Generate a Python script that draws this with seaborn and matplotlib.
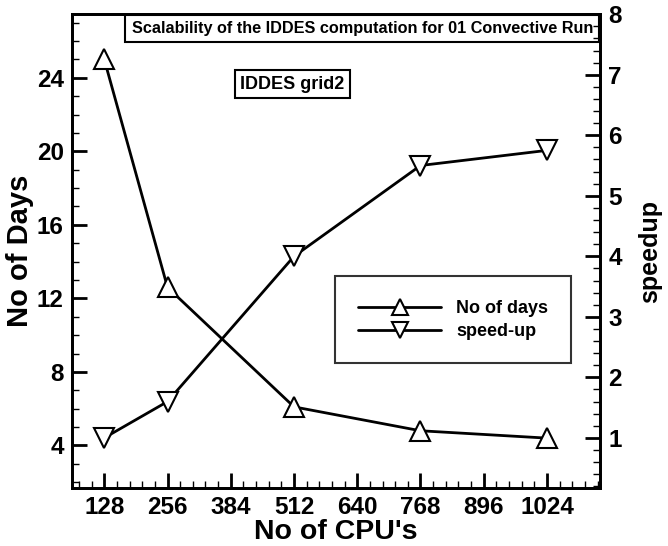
import pandas as pd
import matplotlib.pyplot as plt
import seaborn as sns
from matplotlib.ticker import MultipleLocator

# Dados
cpus = [128, 256, 512, 768, 1024]
dias = [25, 12.6, 6.1, 4.8, 4.4]
speedup = [1, 1.6, 4.0, 5.5, 5.75]

df = pd.DataFrame({"cpus": cpus, "dias": dias, "speedup": speedup})

sns.set_style("ticks")
plt.rcParams['font.family'] = ['Liberation Sans', 'DejaVu Sans']
plt.rcParams['font.weight'] = 'bold'
for k in ['text.color', 'axes.labelcolor', 'xtick.color', 'ytick.color', 'axes.edgecolor']:
    plt.rcParams[k] = 'black'

fig = plt.figure(figsize=(6.68, 5.46), dpi=100)
ax = fig.add_axes([0.108, 0.106, 0.790, 0.868])
ax2 = ax.twinx()

mk = dict(markersize=14, markerfacecolor='white', markeredgecolor='black',
          markeredgewidth=1.5, color='black', linewidth=2)
sns.lineplot(data=df, x="cpus", y="dias", marker='^', ax=ax, label="No of days", legend=False, **mk)
sns.lineplot(data=df, x="cpus", y="speedup", marker='v', ax=ax2, label="speed-up", legend=False, **mk)

ax.set_xlim(63, 1131)
ax.set_ylim(1.68, 27.46)
ax2.set_ylim(0.17, 8)

ax.xaxis.set_major_locator(MultipleLocator(128))
ax.xaxis.set_minor_locator(MultipleLocator(25.6))
ax.yaxis.set_major_locator(MultipleLocator(4))
ax.yaxis.set_minor_locator(MultipleLocator(1))
ax2.yaxis.set_major_locator(MultipleLocator(1))
ax2.yaxis.set_minor_locator(MultipleLocator(0.2))

for a in (ax, ax2):
    for s in a.spines.values():
        s.set_linewidth(2)
        s.set_visible(True)
        s.set_color('black')
    a.tick_params(which='major', direction='in', length=11, width=2, labelsize=17.5, pad=6)
    a.tick_params(which='minor', direction='in', length=5, width=1)
ax.tick_params(axis='x', top=False, which='both')
ax2.tick_params(axis='y', right=True, left=False, which='both')

ax.set_xlabel("No of CPU's", fontsize=20.5, weight='bold', labelpad=0)
ax.set_ylabel("No of Days", fontsize=21, weight='bold', labelpad=2)
ax2.set_ylabel("speedup", fontsize=18, weight='bold', labelpad=12)

ax.text(0.987, 0.986, "Scalability of the IDDES computation for 01 Convective Run",
        transform=ax.transAxes, ha='right', va='top', fontsize=11.7, weight='bold',
        bbox=dict(boxstyle='square,pad=0.38', facecolor='white', edgecolor='black', linewidth=1.5))
ax.text(0.417, 0.852, "IDDES grid2", transform=ax.transAxes, ha='center', va='center',
        fontsize=13, weight='bold',
        bbox=dict(boxstyle='square,pad=0.3', facecolor='white', edgecolor='black', linewidth=1.5))

h1, l1 = ax.get_legend_handles_labels()
h2, l2 = ax2.get_legend_handles_labels()
leg = ax2.legend(h1 + h2, l1 + l2, loc='center', bbox_to_anchor=(0.722, 0.355),
                 fontsize=13, frameon=True, fancybox=False, edgecolor='black',
                 handlelength=4.6, handletextpad=0.8, borderpad=1.3, labelspacing=0.33,
                 markerscale=0.85)
leg.get_frame().set_linewidth(1.5)

fig.savefig("out.png", dpi=100)
